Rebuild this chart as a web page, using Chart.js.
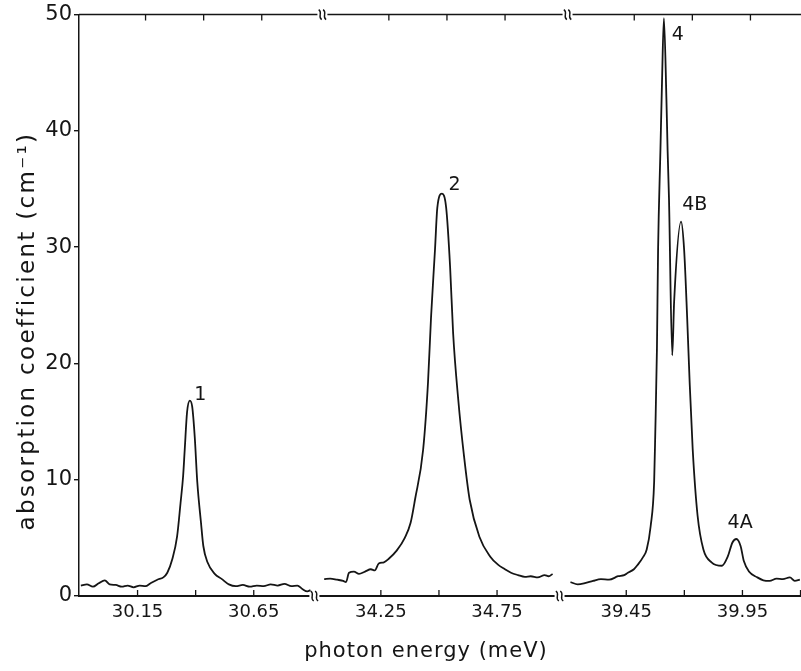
<!DOCTYPE html>
<html>
<head>
<meta charset="utf-8">
<script src="https://cdn.jsdelivr.net/npm/chart.js@4.4.0/dist/chart.umd.min.js"></script>
<style>
  html, body { margin: 0; padding: 0; background: #fff; }
</style>
</head>
<body>
<canvas id="chart" width="801" height="671"></canvas>
<script>
// broken x axis: three energy windows (meV)
const segStart = [29.898, 33.964, 39.163];
const segEnd = [30.911, 35.019, 40.202];

const tickEnergies = [30.15, 30.40, 30.65, 34.25, 34.50, 34.75, 39.45, 39.70, 39.95, 40.20];
const tickLabels = ['30.15', '', '30.65', '34.25', '', '34.75', '39.45', '', '39.95', ''];
const yTicks = [0, 10, 20, 30, 40, 50];

// line 1
const energy1 = [29.906, 29.932, 29.958, 29.983, 30.009, 30.030, 30.056, 30.082, 30.107, 30.133,
  30.159, 30.184, 30.206, 30.235, 30.261, 30.278, 30.300, 30.320, 30.335, 30.346,
  30.353, 30.363, 30.375, 30.385, 30.396, 30.407, 30.423, 30.433, 30.451, 30.482,
  30.513, 30.543, 30.573, 30.603, 30.633, 30.663, 30.693, 30.723, 30.753, 30.782,
  30.812, 30.838, 30.859, 30.881, 30.894];
const absorb1 = [0.9, 1.0, 0.8, 1.1, 1.35, 1.0, 0.95, 0.8, 0.9, 0.75,
  0.9, 0.85, 1.1, 1.4, 1.6, 2.0, 3.2, 5.1, 8.0, 10.3,
  12.6, 15.8, 16.8, 16.3, 13.7, 9.8, 6.3, 4.3, 2.9, 1.9,
  1.45, 1.0, 0.85, 0.95, 0.8, 0.9, 0.85, 1.0, 0.9, 1.05,
  0.85, 0.9, 0.6, 0.4, 0.5];

// line 2
const energy2 = [34.006, 34.032, 34.062, 34.088, 34.100, 34.113, 34.134, 34.156, 34.182, 34.207,
  34.224, 34.241, 34.263, 34.284, 34.318, 34.353, 34.378, 34.397, 34.432, 34.453,
  34.466, 34.483, 34.493, 34.513, 34.531, 34.548, 34.561, 34.583, 34.608, 34.632,
  34.674, 34.720, 34.754, 34.784, 34.810, 34.840, 34.870, 34.895, 34.925, 34.955,
  34.972, 34.989];
const absorb2 = [1.45, 1.5, 1.4, 1.3, 1.2, 2.0, 2.1, 1.9, 2.1, 2.3,
  2.2, 2.8, 2.9, 3.2, 3.9, 5.0, 6.3, 8.3, 12.6, 18.4,
  24.0, 29.8, 33.4, 34.6, 33.4, 28.3, 22.6, 16.9, 12.0, 8.3,
  5.1, 3.4, 2.7, 2.3, 2.0, 1.8, 1.65, 1.7, 1.6, 1.8,
  1.7, 1.9];

// lines 4, 4B, 4A
const energy3 = [39.210, 39.241, 39.272, 39.307, 39.341, 39.376, 39.415, 39.441, 39.457, 39.483,
  39.500, 39.521, 39.538, 39.555, 39.570, 39.575, 39.582, 39.587, 39.597, 39.604,
  39.612, 39.623, 39.628, 39.634, 39.648, 39.656, 39.686, 39.699, 39.712, 39.723,
  39.736, 39.757, 39.782, 39.817, 39.862, 39.887, 39.907, 39.924, 39.942, 39.956,
  39.978, 40.014, 40.040, 40.067, 40.097, 40.124, 40.154, 40.175, 40.197];
const absorb3 = [1.2, 1.0, 1.1, 1.3, 1.45, 1.4, 1.7, 1.8, 2.0, 2.3,
  2.7, 3.3, 4.0, 6.0, 9.8, 14.1, 21.2, 29.8, 38.3, 44.3,
  49.7, 42.6, 38.3, 34.1, 20.7, 25.3, 32.2, 29.8, 24.0, 18.3,
  12.6, 6.9, 4.0, 2.9, 2.6, 3.4, 4.6, 4.9, 4.3, 3.0,
  2.1, 1.6, 1.35, 1.3, 1.5, 1.45, 1.6, 1.3, 1.4];

// line labels
const peakNames = ['1', '2', '4', '4B', '4A'];
const peakEnergy = [30.42, 34.567, 39.672, 39.745, 39.94];
const peakValue = [17.3, 35.3, 48.2, 33.6, 6.3];

const segWidth = segStart.map((s, i) => segEnd[i] - s);
const segOffset = segWidth.map((w, i) => segWidth.slice(0, i).reduce((a, b) => a + b, 0));
const totalWidth = segWidth.reduce((a, b) => a + b, 0);

function toVirtual(e) {
    for (let i = 0; i < segStart.length; i++) {
        if (e <= segEnd[i] + 0.01) return segOffset[i] + (e - segStart[i]);
    }
    return totalWidth;
}

function makePoints(energy, absorb) {
    return energy.map((e, i) => ({ x: toVirtual(e), y: absorb[i] }));
}

const ink = '#151515';
const topShift = 8; // the scanned frame leans a little to the right at the top

function drawBreak(ctx, x, y) {
    ctx.save();
    ctx.fillStyle = '#fff';
    ctx.fillRect(x - 5, y - 2, 10, 4);
    ctx.strokeStyle = ink;
    ctx.lineWidth = 1.4;
    [-2.2, 2.2].forEach(dx => {
        ctx.beginPath();
        ctx.moveTo(x + dx - 1.5, y - 5);
        ctx.bezierCurveTo(x + dx + 3, y - 2, x + dx - 3, y + 2, x + dx + 1.5, y + 5);
        ctx.stroke();
    });
    ctx.restore();
}

const decor = {
    id: 'decor',
    afterDraw(chart) {
        const ctx = chart.ctx;
        const area = chart.chartArea;
        const xs = chart.scales.x;
        const ys = chart.scales.y;
        ctx.save();
        // top frame line
        ctx.strokeStyle = ink;
        ctx.lineWidth = 1.5;
        ctx.beginPath();
        ctx.moveTo(area.left, area.top);
        ctx.lineTo(area.right, area.top);
        ctx.stroke();
        // inward ticks on bottom and top
        ctx.lineWidth = 1.3;
        xs.ticks.forEach(t => {
            const px = xs.getPixelForValue(t.value);
            ctx.beginPath();
            ctx.moveTo(px, area.bottom);
            ctx.lineTo(px, area.bottom - 6);
            ctx.moveTo(px + topShift, area.top);
            ctx.lineTo(px + topShift, area.top + 6);
            ctx.stroke();
        });
        // axis breaks
        for (let i = 1; i < segOffset.length; i++) {
            const px = xs.getPixelForValue(segOffset[i]);
            drawBreak(ctx, px, area.bottom);
            drawBreak(ctx, px + topShift, area.top);
        }
        // line labels
        ctx.fillStyle = ink;
        ctx.font = '19px "DejaVu Sans"';
        ctx.textAlign = 'center';
        ctx.textBaseline = 'middle';
        peakNames.forEach((name, i) => {
            ctx.fillText(name, xs.getPixelForValue(toVirtual(peakEnergy[i])), ys.getPixelForValue(peakValue[i]));
        });
        // axis titles
        ctx.font = '21px "DejaVu Sans"';
        ctx.letterSpacing = '1px';
        ctx.fillText('photon energy (meV)', 426, 652);
        ctx.translate(28, 331);
        ctx.rotate(-Math.PI / 2);
        ctx.font = '23px "DejaVu Sans"';
        ctx.letterSpacing = '2.3px';
        ctx.fillText('absorption coefficient (cm⁻¹)', 0, 0);
        ctx.restore();
    }
};

const lineStyle = {
    borderColor: ink,
    borderWidth: 1.8,
    pointRadius: 0,
    fill: false,
    cubicInterpolationMode: 'monotone'
};

new Chart(document.getElementById('chart'), {
    type: 'line',
    data: {
        datasets: [
            Object.assign({ label: 'window 1', data: makePoints(energy1, absorb1) }, lineStyle),
            Object.assign({ label: 'window 2', data: makePoints(energy2, absorb2) }, lineStyle),
            Object.assign({ label: 'window 3', data: makePoints(energy3, absorb3) }, lineStyle)
        ]
    },
    options: {
        responsive: false,
        animation: false,
        devicePixelRatio: 1,
        layout: { padding: { top: 13, right: 0, left: 0, bottom: 0 } },
        plugins: { legend: { display: false }, tooltip: { enabled: false } },
        scales: {
            x: {
                type: 'linear',
                min: 0,
                max: totalWidth,
                afterBuildTicks: scale => {
                    scale.ticks = tickEnergies.map(e => ({ value: toVirtual(e) }));
                },
                afterFit: scale => {
                    scale.height = 75;
                    scale.paddingLeft = 0;
                    scale.paddingRight = 0;
                },
                ticks: {
                    autoSkip: false,
                    maxRotation: 0,
                    padding: 6,
                    color: ink,
                    font: { family: 'DejaVu Sans', size: 18 },
                    callback: (value, index) => tickLabels[index]
                },
                grid: { display: false, drawTicks: false },
                border: { display: true, color: ink, width: 2 }
            },
            y: {
                min: 0,
                max: 50,
                afterBuildTicks: scale => {
                    scale.ticks = yTicks.map(v => ({ value: v }));
                },
                afterFit: scale => { scale.width = 79; },
                ticks: {
                    padding: 2,
                    color: ink,
                    font: { family: 'DejaVu Sans', size: 21 }
                },
                grid: { drawOnChartArea: false, drawTicks: true, tickLength: 5, color: ink, lineWidth: 1.4 },
                border: { display: true, color: ink, width: 1.5 }
            }
        }
    },
    plugins: [decor]
});
</script>
</body>
</html>
